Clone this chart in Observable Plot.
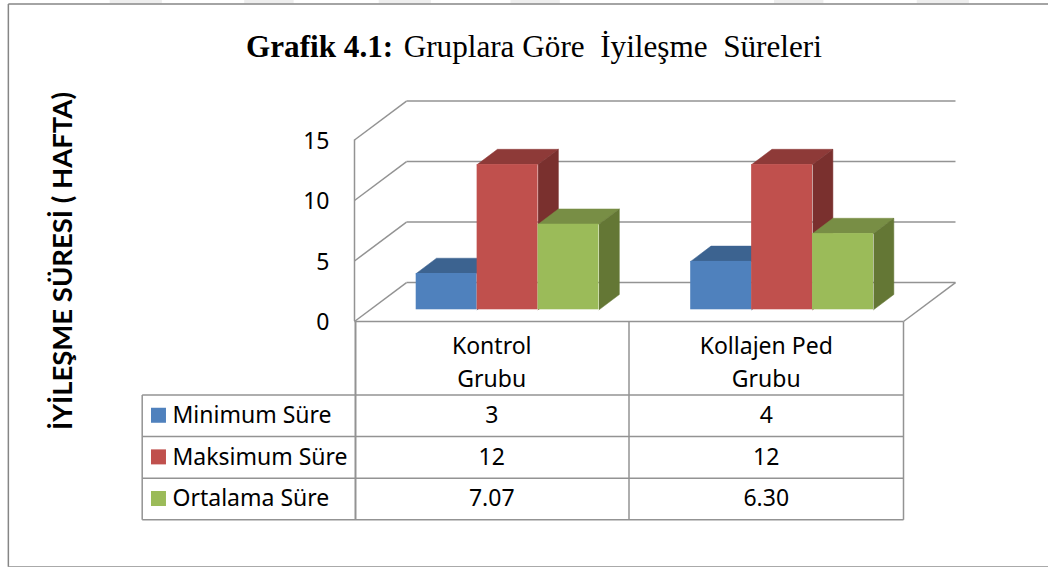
<!DOCTYPE html>
<html>
<head>
<meta charset="utf-8">
<script src="https://cdn.jsdelivr.net/npm/d3@7"></script>
<script src="https://cdn.jsdelivr.net/npm/@observablehq/plot@0.6"></script>
<style>html,body{margin:0;padding:0;background:#fff}svg{display:block}</style>
</head>
<body>
<div id="chart"></div>
<script>
const categories = ["Kontrol\nGrubu", "Kollajen Ped\nGrubu"];
const seriesNames = ["Minimum Süre", "Maksimum Süre", "Ortalama Süre"];
const minimumSure = [3, 4];
const maksimumSure = [12, 12];
const ortalamaSure = [7.07, 6.30];
const yTicks = [0, 5, 10, 15];
const chartTitleBold = "Grafik 4.1:";
const chartTitleRest = "Gruplara Göre\u00a0 İyileşme\u00a0 Süreleri";
const yAxisTitle = "İYİLEŞME SÜRESİ ( HAFTA)";

const seriesValues = [minimumSure, maksimumSure, ortalamaSure];
const frontColors = ["#4F81BD", "#C0504D", "#9BBB59"];
const topColors = ["#3C6390", "#8E3A38", "#788E45"];
const sideColors = ["#34567E", "#7A302E", "#647735"];

// layout, in data units (x: category widths, y: weeks)
const gridC = "#939393", frameC = "#868686";
const wallDx = 0.1894, wallDy = 3.22;
const barBase = 0.967, barStart = 0.2248, barW = 0.2220;
const barDx = 0.074, barDy = 1.264;
const tableTop = -6.07, rowH = 3.44, tableLeft = -0.7734, labelCol = 0.0036;
const frameL = -1.261, frameR = 2.53, frameT = 26.25, frameB = -20.27;
const fadedBands = [[-0.89,-0.70],[-0.40,-0.22],[0.09,0.28],[0.57,0.75],[1.53,1.71],[2.05,2.24]];

const fronts = [];
categories.forEach((c, g) => seriesValues.forEach((vals, s) => {
  const x0 = g + barStart + s * barW, x1 = x0 + barW, v = vals[g], y0 = barBase, y1 = barBase + v;
  const id = `${g}-${s}`;
  fronts.push({x0, x1, y0, y1, fill: frontColors[s],
    top: [[x0,y1],[x0+barDx,y1+barDy],[x1+barDx,y1+barDy],[x1,y1]].map(([x,y]) => ({x,y,id:id+"t",fill:topColors[s]})),
    side: [[x1,y0],[x1+barDx,y0+barDy],[x1+barDx,y1+barDy],[x1,y1]].map(([x,y]) => ({x,y,id:id+"s",fill:sideColors[s]}))
  });
}));

const barMarks = fronts.flatMap(b => [
  Plot.line(b.top, {x:"x", y:"y", z:"id", fill:"fill", stroke:"fill", strokeWidth:0.5}),
  Plot.line(b.side, {x:"x", y:"y", z:"id", fill:"fill", stroke:"fill", strokeWidth:0.5}),
  Plot.rect([b], {x1:"x0", x2:"x1", y1:"y0", y2:"y1", fill:"fill", inset:0})
]);

const rowY = i => tableTop - (i + 0.5) * rowH;
const rowEdges = d3.range(seriesNames.length + 1).map(i => tableTop - i * rowH);
const fmt = v => Number.isInteger(v) ? String(v) : v.toFixed(2);
const cells = seriesNames.flatMap((n, s) => categories.map((c, g) => ({x: g + 0.5, y: rowY(s), t: fmt(seriesValues[s][g])})));
const legend = seriesNames.map((n, s) => ({n, s, y: rowY(s)}));
const font = "'Noto Sans', sans-serif";
const fs = 23;

const plot = Plot.plot({
  width: 1048, height: 567,
  marginLeft: 354, marginRight: 145, marginTop: 139.5, marginBottom: 246,
  style: {background: "#fff", fontFamily: font},
  x: {domain: [0, 2], axis: null},
  y: {domain: [0, 15], axis: null},
  marks: [
    // faint remains at the top edge
    Plot.rect(fadedBands, {x1:d=>d[0], x2:d=>d[1], y1:()=>frameT, y2:()=>26.55, fill:"#eeeeee"}),
    // outer frame
    Plot.link([frameT], {x1:()=>frameL, x2:()=>frameR, y1:d=>d, y2:d=>d, stroke:frameC, strokeWidth:1.5}),
    Plot.link([frameB], {x1:()=>frameL, x2:()=>frameR, y1:d=>d, y2:d=>d, stroke:"#aaa", strokeWidth:1.5}),
    Plot.link([frameL], {x1:d=>d, x2:d=>d, y1:()=>frameT, y2:()=>frameB, stroke:frameC, strokeWidth:1.5}),
    // walls and floor
    Plot.link(yTicks, {x1:()=>0, y1:d=>d, x2:()=>wallDx, y2:d=>d+wallDy, stroke:gridC, strokeWidth:1.5}),
    Plot.link(yTicks, {x1:()=>wallDx, y1:d=>d+wallDy, x2:()=>2+wallDx, y2:d=>d+wallDy, stroke:gridC, strokeWidth:1.5}),
    Plot.link([0], {x1:()=>2, y1:()=>0, x2:()=>2+wallDx, y2:()=>wallDy, stroke:gridC, strokeWidth:1.5}),
    Plot.ruleX([0], {y1:0, y2:15, stroke:gridC, strokeWidth:1.5}),
    ...barMarks,
    // table
    Plot.link([0], {x1:()=>0, x2:()=>2, y1:()=>0, y2:()=>0, stroke:gridC, strokeWidth:1.5}),
    Plot.link(rowEdges, {x1:()=>tableLeft, x2:()=>2, y1:d=>d, y2:d=>d, stroke:gridC, strokeWidth:1.5}),
    Plot.link([labelCol], {x1:d=>d, x2:d=>d, y1:()=>0, y2:()=>rowEdges[3], stroke:gridC, strokeWidth:2}),
    Plot.link([1, 2], {x1:d=>d, x2:d=>d, y1:()=>0, y2:()=>rowEdges[3], stroke:gridC, strokeWidth:1.5}),
    Plot.link([tableLeft], {x1:d=>d, x2:d=>d, y1:()=>rowEdges[0], y2:()=>rowEdges[3], stroke:gridC, strokeWidth:1.5}),
    Plot.rect(legend, {x1:()=>-0.7395, x2:()=>-0.685, y1:d=>d.y+0.62, y2:d=>d.y-0.62, fill:d=>frontColors[d.s]}),
    Plot.text(legend, {x:()=>-0.663, y:"y", text:"n", textAnchor:"start", fontSize:fs, fill:"#000"}),
    Plot.text(cells, {x:"x", y:"y", text:"t", fontSize:fs, fill:"#000"}),
    Plot.text(categories, {x:(d,i)=>i+0.5, y:()=>-3.2, text:d=>d, fontSize:fs, lineHeight:1.43, fill:"#000"}),
    // y axis
    Plot.axisY({ticks: yTicks, tickSize: 0, tickPadding: 25, tickFormat: d=>d, fontSize: fs, color:"#000", label: null, dy: 1.5}),
    Plot.text([yAxisTitle], {x:()=>-1.06, y:()=>5.0, text:d=>d, rotate:-90, fontFamily:"Lato", fontSize:27.5, fontWeight:"bold", fill:"#000"}),
    // title
    Plot.text([chartTitleBold], {x:()=>0.141, y:()=>22.7, text:d=>d, textAnchor:"end", fontFamily:"Liberation Serif", fontWeight:"bold", fontSize:31.2, fill:"#000"}),
    Plot.text([chartTitleRest], {x:()=>0.179, y:()=>22.7, text:d=>d, textAnchor:"start", fontFamily:"Liberation Serif", fontSize:31.2, fill:"#000"})
  ]
});
document.getElementById("chart").append(plot);
</script>
</body>
</html>
